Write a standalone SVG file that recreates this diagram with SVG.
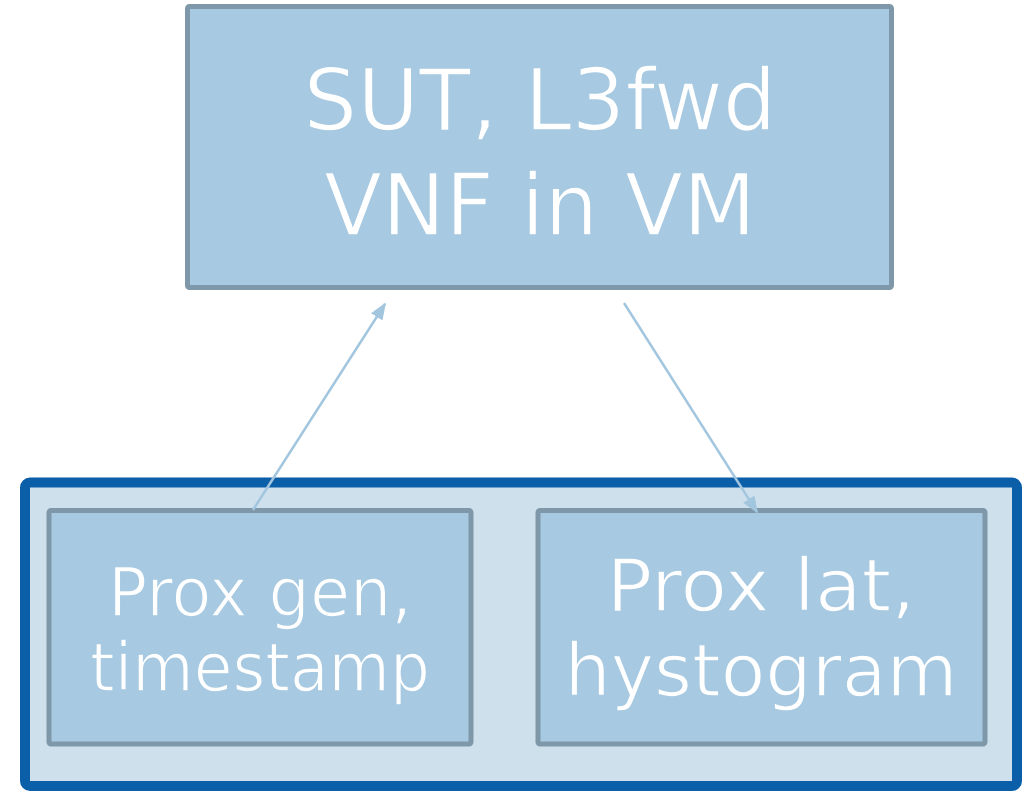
<svg xmlns="http://www.w3.org/2000/svg" width="1032" height="791" viewBox="0 0 1032 791">
  <style>
    .box { fill: #a7c9e1; stroke: #7e97a9; stroke-width: 5; }
    .frame { fill: #cfe0ed; stroke: #0b5fa9; stroke-width: 10; }
    /* box-coloured outline trims the glyph strokes to a lighter look */
    .label { fill: #ffffff; stroke: #a7c9e1; stroke-width: 1.6; font-family: "DejaVu Sans", Verdana, sans-serif; text-anchor: middle; }
    .link { fill: none; stroke: #a3c6df; stroke-width: 2.5; }
  </style>
  <defs>
    <marker id="arrow" viewBox="0 0 10 8" refX="9" refY="4" markerWidth="17" markerHeight="13.6" markerUnits="userSpaceOnUse" orient="auto">
      <path d="M0,0 L10,4 L0,8 z" fill="#a3c6df"/>
    </marker>
  </defs>

  <!-- system under test -->
  <g id="sut">
    <rect class="box" x="187.5" y="6.5" width="704" height="281" rx="2"/>
    <text class="label" x="540" y="130" font-size="86" textLength="473" lengthAdjust="spacingAndGlyphs">SUT, L3fwd</text>
    <text class="label" x="540" y="235" font-size="86" textLength="432" lengthAdjust="spacingAndGlyphs">VNF in VM</text>
  </g>

  <!-- traffic generator host -->
  <g id="prox-host">
    <rect class="frame" x="25" y="482.5" width="992" height="303.5" rx="5"/>
  </g>

  <g id="prox-gen">
    <rect class="box" x="49" y="510.5" width="422" height="233.5" rx="2"/>
    <text class="label" x="260" y="616" font-size="67" textLength="304" lengthAdjust="spacingAndGlyphs">Prox gen,</text>
    <text class="label" x="260" y="691" font-size="67" textLength="340" lengthAdjust="spacingAndGlyphs">timestamp</text>
  </g>

  <g id="prox-lat">
    <rect class="box" x="538" y="510.5" width="447" height="233.5" rx="2"/>
    <text class="label" x="761" y="611" font-size="73" textLength="309" lengthAdjust="spacingAndGlyphs">Prox lat,</text>
    <text class="label" x="761" y="696" font-size="73" textLength="393" lengthAdjust="spacingAndGlyphs">hystogram</text>
  </g>

  <g id="connectors">
    <line class="link" x1="253" y1="510" x2="385" y2="304" marker-end="url(#arrow)"/>
    <line class="link" x1="624" y1="303" x2="757" y2="512" marker-end="url(#arrow)"/>
  </g>
</svg>
